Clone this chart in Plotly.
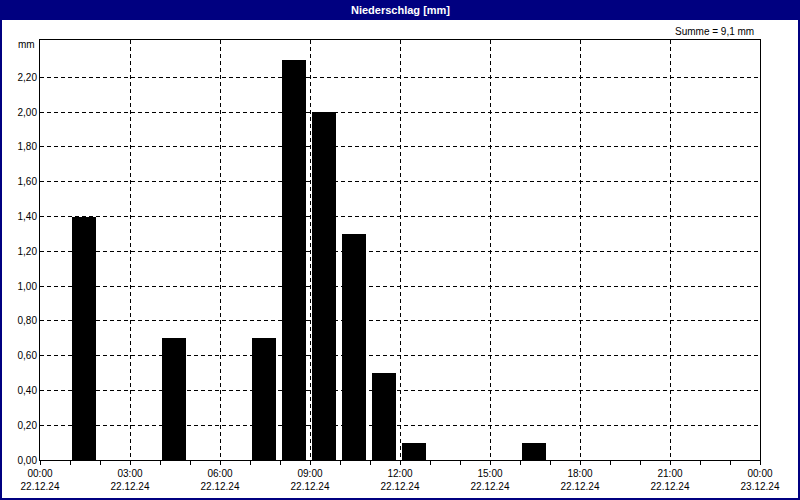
import plotly.graph_objects as go

# Data
hours = [1, 4, 7, 8, 9, 10, 11, 12, 16]          # hour start of each bar (22.12.24)
precip = [1.4, 0.7, 0.7, 2.3, 2.0, 1.3, 0.5, 0.1, 0.1]  # mm
x_tickvals = [0, 3, 6, 9, 12, 15, 18, 21, 24]
x_ticktext = ["00:00<br>22.12.24", "03:00<br>22.12.24", "06:00<br>22.12.24",
              "09:00<br>22.12.24", "12:00<br>22.12.24", "15:00<br>22.12.24",
              "18:00<br>22.12.24", "21:00<br>22.12.24", "00:00<br>23.12.24"]
y_tickvals = [0, 0.2, 0.4, 0.6, 0.8, 1.0, 1.2, 1.4, 1.6, 1.8, 2.0, 2.2]
y_ticktext = ["0,00", "0,20", "0,40", "0,60", "0,80", "1,00", "1,20", "1,40",
              "1,60", "1,80", "2,00", "2,20"]
title_text = "Niederschlag [mm]"
sum_text = "Summe = 9,1 mm"

W, H = 800, 500
L, R, T, B = 40, 40, 40, 40
PW, PH = W - L - R, H - T - B

def px(x):
    return (x - L) / PW

def py(y):
    return (H - B - y) / PH

NAVY = "#000080"
FONT = "Liberation Sans"

fig = go.Figure()
fig.add_trace(go.Bar(
    x=[h + 0.47 for h in hours], y=precip, width=0.8,
    marker=dict(color="#000000", line=dict(width=0)),
))

fig.update_layout(
    width=W, height=H,
    margin=dict(l=L, r=R, t=T, b=B, autoexpand=False),
    paper_bgcolor="white", plot_bgcolor="white",
    showlegend=False,
    font=dict(family=FONT, size=10, color="#000000"),
    bargap=0,
    xaxis=dict(
        range=[0, 24], tickmode="array", tickvals=x_tickvals, ticktext=x_ticktext,
        showline=True, linecolor="black", linewidth=1, mirror=True,
        showgrid=True, gridcolor="black", gridwidth=1, griddash="4px,3px",
        ticks="outside", ticklen=4, tickcolor="black",
        minor=dict(dtick=1, tick0=0, ticks="outside", ticklen=4, tickcolor="black", showgrid=False),
        zeroline=False, fixedrange=True, automargin=False,
        tickfont=dict(family=FONT, size=10, color="black"),
    ),
    yaxis=dict(
        range=[0, 2.415], tickmode="array", tickvals=y_tickvals, ticktext=y_ticktext,
        showline=True, linecolor="black", linewidth=1, mirror=True,
        showgrid=True, gridcolor="black", gridwidth=1, griddash="4px,3px",
        ticks="", zeroline=False, fixedrange=True, automargin=False,
        tickfont=dict(family=FONT, size=10, color="black"),
    ),
    shapes=[
        dict(type="rect", xref="paper", yref="paper",
             x0=px(0), x1=px(W), y0=py(0), y1=py(20),
             fillcolor=NAVY, line=dict(width=0), layer="above"),
        dict(type="rect", xref="paper", yref="paper",
             x0=px(1), x1=px(W - 1), y0=py(1), y1=py(H - 1),
             fillcolor="rgba(0,0,0,0)", line=dict(color=NAVY, width=2), layer="above"),
    ],
    annotations=[
        dict(text="<b>" + title_text + "</b>", xref="paper", yref="paper",
             x=px(400), y=py(10), xanchor="center", yanchor="middle",
             showarrow=False, font=dict(family=FONT, size=11, color="white")),
        dict(text=sum_text, xref="paper", yref="paper",
             x=px(756), y=py(31), xanchor="right", yanchor="middle",
             showarrow=False, font=dict(family=FONT, size=10, color="black")),
        dict(text="mm", xref="paper", yref="paper",
             x=px(37), y=py(45), xanchor="right", yanchor="middle",
             showarrow=False, font=dict(family=FONT, size=10, color="black")),
    ],
)

fig.write_html("out.html", config={"displayModeBar": False},
               post_script="document.body.style.margin='0';document.body.style.overflow='hidden';")
